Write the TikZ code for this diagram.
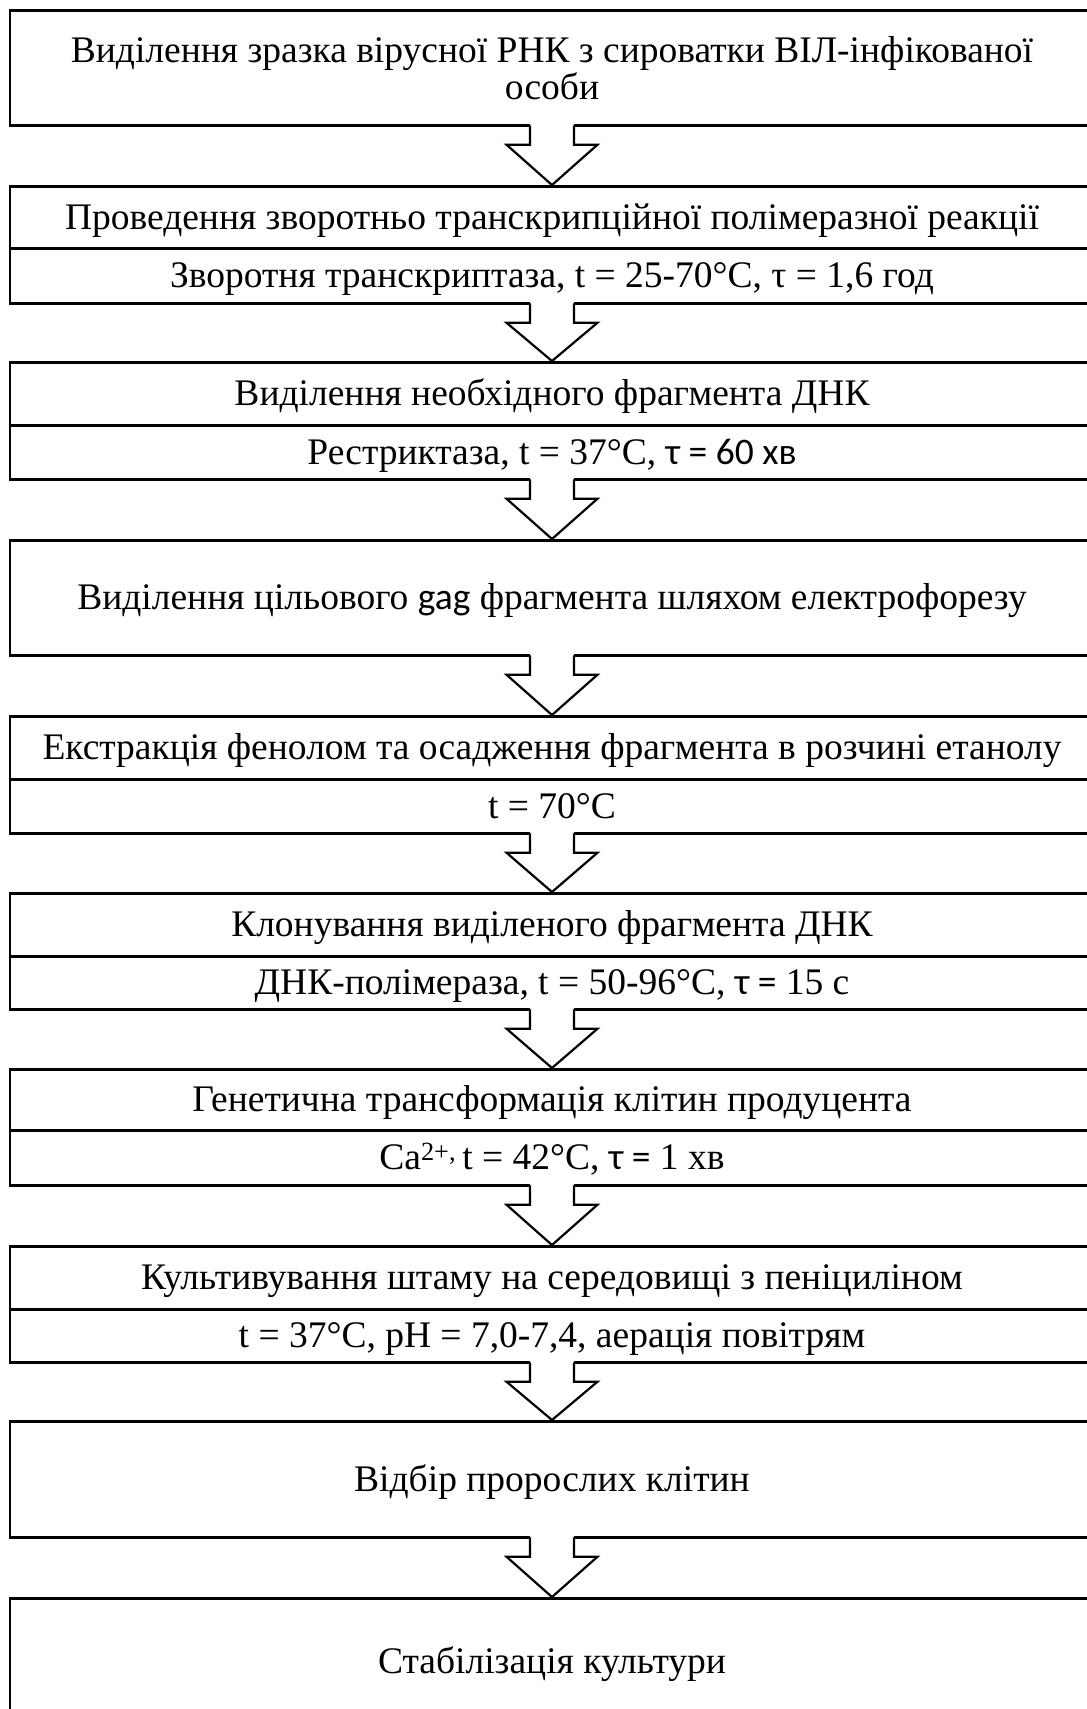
\documentclass[tikz,border=0pt]{standalone}
\usepackage{fontspec}
\setmainfont{Liberation Serif}
\newfontfamily\calib{Carlito}
\usetikzlibrary{calc}
\begin{document}
\begin{tikzpicture}[x=1pt,y=-1pt,
  stagebox/.style={draw=black, line width=2.7pt, fill=white, minimum width=1084pt, inner sep=0pt,
    anchor=north, font=\fontsize{37.5}{37}\selectfont, text height=27.5pt, text depth=4pt},
  multibox/.style={draw=black, line width=2.7pt, fill=white, minimum width=1084pt, inner sep=0pt,
    anchor=north, font=\fontsize{37.5}{37}\selectfont, align=center},
  arrowline/.style={draw=black, line width=2.2pt, line join=miter}
]
\useasboundingbox (0,0) rectangle (1087,1709);
\fill[white] (0,0) rectangle (1087,1709);
\clip (0,0) rectangle (1087,1709);

\newcommand\flowarrow[2]{%
  \fill[white] ($(#1.south)+(-22,-2.5)$) rectangle ($(#1.south)+(22,2.5)$);
  \draw[arrowline] ($(#1.south)+(-22,-1.35)$) -- ($(#1.south)+(-22,18)$) -- ($(#1.south)+(-45.5,18)$)
     -- (#2.north) -- ($(#1.south)+(45.5,18)$) -- ($(#1.south)+(22,18)$) -- ($(#1.south)+(22,-1.35)$);
}

\node[multibox, minimum height=115pt] (b1) at (552,9)
  {Виділення зразка вірусної РНК з сироватки ВІЛ-інфікованої\\особи};

\node[stagebox, minimum height=62pt] (b2a) at (552,185)
  {Проведення зворотньо транскрипційної полімеразної реакції};
\node[stagebox, minimum height=55pt] (b2) at (552,247)
  {Зворотня транскриптаза, t = 25-70°C, τ = 1,6 год};

\node[stagebox, minimum height=63pt] (b3a) at (552,361)
  {Виділення необхідного фрагмента ДНК};
\node[stagebox, minimum height=54pt] (b3) at (552,424)
  {Рестриктаза, t = 37°C, {\calib τ = 60 хв}};

\node[stagebox, minimum height=115pt] (b4) at (552,539)
  {Виділення цільового {\calib gag} фрагмента шляхом електрофорезу};

\node[stagebox, minimum height=63pt] (b5a) at (552,715)
  {Екстракція фенолом та осадження фрагмента в розчині етанолу};
\node[stagebox, minimum height=54pt] (b5) at (552,778)
  {t = 70°C};

\node[stagebox, minimum height=63pt] (b6a) at (552,892)
  {Клонування виділеного фрагмента ДНК};
\node[stagebox, minimum height=53pt] (b6) at (552,955)
  {ДНК-полімераза, t = 50-96°C, {\calib τ =} 15 с};

\node[stagebox, minimum height=61pt] (b7a) at (552,1068)
  {Генетична трансформація клітин продуцента};
\node[stagebox, minimum height=55pt] (b7) at (552,1129)
  {Ca\textsuperscript{2+,}\,t = 42°C, {\calib τ =} 1 хв};

\node[stagebox, minimum height=63pt] (b8a) at (552,1245)
  {Культивування штаму на середовищі з пеніциліном};
\node[stagebox, minimum height=53pt] (b8) at (552,1308)
  {t = 37°C, pH = 7,0-7,4, аерація повітрям};

\node[stagebox, minimum height=116pt] (b9) at (552,1420)
  {Відбір пророслих клітин};

\node[stagebox, minimum height=126pt] (b10) at (552,1597)
  {Стабілізація культури};

\flowarrow{b1}{b2a}
\flowarrow{b2}{b3a}
\flowarrow{b3}{b4}
\flowarrow{b4}{b5a}
\flowarrow{b5}{b6a}
\flowarrow{b6}{b7a}
\flowarrow{b7}{b8a}
\flowarrow{b8}{b9}
\flowarrow{b9}{b10}
\end{tikzpicture}
\end{document}
